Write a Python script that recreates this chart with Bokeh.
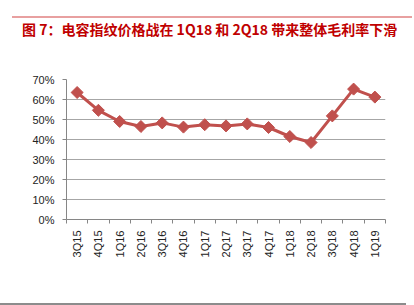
import math
from bokeh.plotting import figure
from bokeh.models import Range1d, FixedTicker, NumeralTickFormatter, Div
from bokeh.layouts import column
from bokeh.embed import file_html
from bokeh.resources import INLINE

quarters = ["3Q15", "4Q15", "1Q16", "2Q16", "3Q16", "4Q16", "1Q17", "2Q17",
            "3Q17", "4Q17", "1Q18", "2Q18", "3Q18", "4Q18", "1Q19"]
margin = [0.635, 0.546, 0.490, 0.465, 0.483, 0.462, 0.474, 0.468,
          0.478, 0.460, 0.415, 0.385, 0.518, 0.652, 0.612]
y_ticks = [0.0, 0.1, 0.2, 0.3, 0.4, 0.5, 0.6, 0.7]
title_text = "图 7：电容指纹价格战在 1Q18 和 2Q18 带来整体毛利率下滑"

xs = list(range(len(quarters)))

p = figure(width=414, height=262, output_backend="svg", toolbar_location=None,
           x_range=Range1d(-0.5, len(quarters) - 0.5), y_range=Range1d(0, 0.7),
           min_border_left=66, min_border_right=29, min_border_top=39, min_border_bottom=83,
           margin=0)
p.outline_line_color = None
p.background_fill_color = "white"
p.border_fill_color = "white"

p.line(xs, margin, line_color="#C0504D", line_width=3)
p.scatter(xs, margin, marker="square", angle=math.pi / 4, size=8.5,
          fill_color="#C0504D", line_color="#C0504D")

# x axis
p.xaxis.ticker = FixedTicker(ticks=xs, minor_ticks=[i - 0.5 for i in range(len(quarters) + 1)])
p.xaxis.major_label_overrides = {i: q for i, q in enumerate(quarters)}
p.xaxis.major_label_orientation = math.pi / 2
p.xaxis.major_tick_out = 0
p.xaxis.major_tick_in = 0
p.xaxis.minor_tick_out = 4
p.xaxis.minor_tick_in = 0
p.xaxis.minor_tick_line_color = "#868686"
p.xaxis.axis_line_color = "#868686"
p.xaxis.major_label_text_font = "Liberation Sans"
p.xaxis.major_label_text_font_size = "11px"
p.xaxis.major_label_text_color = "#222222"
p.xaxis.major_label_standoff = 7
p.xgrid.grid_line_color = None

# y axis
p.yaxis.ticker = FixedTicker(ticks=y_ticks)
p.yaxis.formatter = NumeralTickFormatter(format="0%")
p.yaxis.major_tick_out = 4
p.yaxis.major_tick_in = 0
p.yaxis.minor_tick_line_color = None
p.yaxis.axis_line_color = "#868686"
p.yaxis.major_tick_line_color = "#868686"
p.yaxis.major_label_text_font = "Liberation Sans"
p.yaxis.major_label_text_font_size = "11px"
p.yaxis.major_label_text_color = "#222222"
p.yaxis.major_label_standoff = 8
p.ygrid.grid_line_color = "#A6A6A6"
p.ygrid.grid_line_width = 1

top_rule = Div(text="", width=400, height=2, margin=(16, 2, 0, 12),
               styles={"background-color": "#E8A0A0"})
title_div = Div(width=414, height=22, margin=0,
                text='<div style="margin-left:22px;padding-top:3px;white-space:nowrap;'
                     "font-family:'Noto Sans CJK SC';font-weight:bold;"
                     'font-size:14px;line-height:16px;color:#C00000;">' + title_text + '</div>')
bottom_rule = Div(text="", width=406, height=2, margin=(1, 8, 0, 0),
                  styles={"background-color": "#8C8C8C"})

layout = column(top_rule, title_div, p, bottom_rule, spacing=0)

open("out.html", "w").write(file_html(layout, INLINE))
